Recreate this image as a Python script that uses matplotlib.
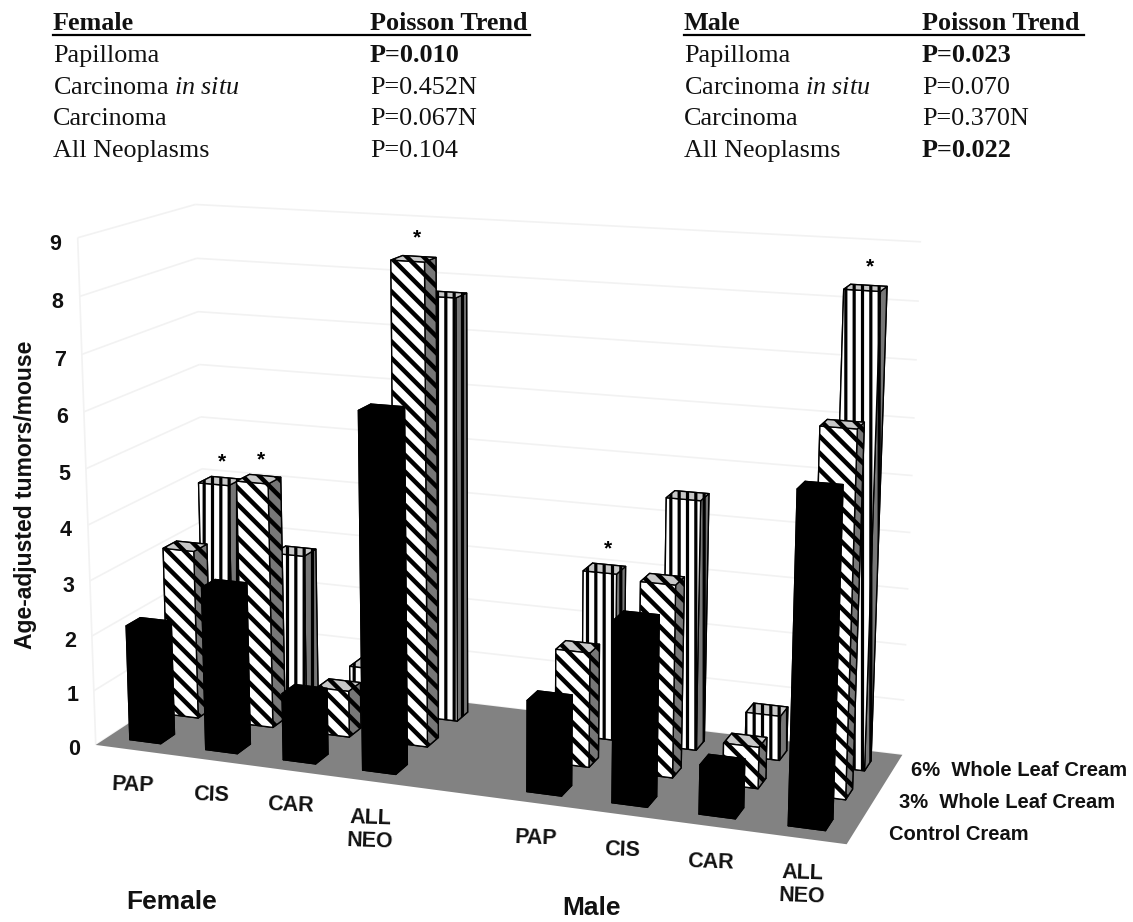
import numpy as np
import matplotlib
matplotlib.use("Agg")
import matplotlib.pyplot as plt
from mpl_toolkits.mplot3d import Axes3D
from mpl_toolkits.mplot3d.art3d import Poly3DCollection, Line3DCollection

W, H = 1133, 922

# ---------- data ----------
categories = ["PAP", "CIS", "CAR", "ALL\nNEO"]
groups = ["Female", "Male"]
series = ["Control Cream", "3%  Whole Leaf Cream", "6%  Whole Leaf Cream"]
female_control = [2.1, 2.95, 1.2, 6.3]
female_3pct = [3.13, 4.5, 0.85, 8.6]
female_6pct = [4.0, 2.8, 0.8, 7.75]
male_control = [1.6, 3.15, 0.85, 5.6]
male_3pct = [2.05, 3.4, 0.73, 6.3]
male_6pct = [3.05, 4.5, 0.8, 8.3]
y_ticks = list(range(10))
# significance stars: (group index, category index, series index)
stars = [(0, 0, 2), (0, 1, 1), (0, 3, 1), (1, 0, 2), (1, 3, 2)]

table_rows = ["Papilloma", "Carcinoma $\\mathit{in\\ situ}$", "Carcinoma", "All Neoplasms"]
female_trend = ["P=0.010", "P=0.452N", "P=0.067N", "P=0.104"]
female_bold = [True, False, False, False]
male_trend = ["P=0.023", "P=0.070", "P=0.370N", "P=0.022"]
male_bold = [True, False, False, True]

# ---------- camera: fitted from the reference's floor and wall corners ----------
world_pts = np.array([[0, 0, 0], [9, 0, 0], [9, 3, 0], [0, 3, 0],
                      [0, 0, 9], [0, 3, 9], [9, 3, 9]], float)
image_pts = np.array([[97, 745], [846, 845], [903, 754], [206, 672],
                      [77, 237], [196, 205], [921, 242]], float)
rows = []
for (X, Y, Z), (u, v) in zip(world_pts, image_pts):
    v = H - v
    rows.append([X, Y, Z, 1, 0, 0, 0, 0, -u * X, -u * Y, -u * Z, -u])
    rows.append([0, 0, 0, 0, X, Y, Z, 1, -v * X, -v * Y, -v * Z, -v])
P = np.linalg.svd(np.array(rows, float))[2][-1].reshape(3, 4)
if P[2] @ np.array([4.5, 1.5, 4, 1]) < 0:
    P = -P
P = P / (P[2] @ np.array([4.5, 1.5, 4, 1]))


def project(X, Y, Z):
    q = P @ np.array([X, Y, Z, 1.0])
    return q[0] / q[2], H - q[1] / q[2]


fig = plt.figure(figsize=(W / 100, H / 100), dpi=100, facecolor="white")
ax = fig.add_axes([-0.2, -0.2, 1.4, 1.4], projection="3d")
ax.patch.set_visible(False)
ax.set_axis_off()
ax.computed_zorder = False


def camera_proj():
    A = ax.transData.inverted().get_matrix()
    M = np.zeros((4, 4))
    M[0] = A[0, 0] * P[0] + A[0, 1] * P[1] + A[0, 2] * P[2]
    M[1] = A[1, 0] * P[0] + A[1, 1] * P[1] + A[1, 2] * P[2]
    M[2] = P[2] - 0.2 * np.array([0, 0, 0, 1.0])
    M[3] = P[2]
    return M


ax.get_proj = camera_proj

# ---------- floor and wall grid ----------
floor = Poly3DCollection([[(0, 0, 0), (9, 0, 0), (9, 3, 0), (0, 3, 0)]],
                         facecolors="#828282", edgecolors="none", zorder=1)
ax.add_collection3d(floor)
grid_segments = []
for t in y_ticks:
    grid_segments.append([(0, 0, t), (0, 3, t)])
    grid_segments.append([(0, 3, t), (9, 3, t)])
grid_segments.append([(0, 0, 0), (0, 0, 9)])
grid = Line3DCollection(grid_segments, colors="#f2f2f2", linewidths=1.2, zorder=0.5)
ax.add_collection3d(grid)

# ---------- bars ----------
values = [[female_control, female_3pct, female_6pct],
          [male_control, male_3pct, male_6pct]]
hatches = [None, "\\\\", "||"]
hatch_lw = [1.0, 3.2, 2.3]
side = ["#000000", "#777777", "#777777"]
top = ["#000000", "#c8c8c8", "#c8c8c8"]
front = ["#000000", "#ffffff", "#ffffff"]
group_start = [0, 5]
bar_w, bar_d = 0.41, 0.36
x_off, y_off = 0.29, 0.31


def px(x, y, s, **kw):
    kw.setdefault("ha", "center")
    kw.setdefault("va", "center")
    return fig.text(x / W, 1 - y / H, s, **kw)


order = 10
for s in (2, 1, 0):
    plt.rcParams["hatch.linewidth"] = hatch_lw[s]
    for g in range(2):
        for c in range(4):
            h = values[g][s][c]
            x = group_start[g] + c + x_off
            y = s + y_off
            cols = [side[s], top[s], front[s], side[s], side[s], side[s]]
            b = ax.bar3d(x, y, 0, bar_w, bar_d, h, color=cols, shade=False,
                         edgecolor="black", linewidth=1.0, hatch=hatches[s])
            b.set_zorder(order)
            order += 1

for g, c, s in stars:
    sx, sy = project(group_start[g] + c + x_off + bar_w * 0.6, s + y_off + bar_d / 2,
                     values[g][s][c] + 0.36)
    px(sx, sy, "*", fontsize=15, fontweight="bold", family="Liberation Sans", color="black")

# ---------- axis text ----------
sans = dict(family="Liberation Sans", fontweight="bold", color="#111111")
for t in y_ticks:
    tx, ty = project(-0.3, 0, t)
    px(tx + 1, ty + 8, str(t), fontsize=15.5, **sans)

px(26, 495, "Age-adjusted tumors/mouse", rotation=90, fontsize=16.5, **sans)
cat_xy = [(133, 785), (211, 795), (290, 805), (370, 830),
          (536, 838), (622, 850), (710, 862), (802, 885)]
for i, (x, y) in enumerate(cat_xy):
    px(x, y, categories[i % 4], fontsize=15.5, rotation=-2, linespacing=1.12, **sans)
px(172, 902, groups[0], fontsize=19, **sans)
px(592, 908, groups[1], fontsize=19, **sans)
px(911, 770, series[2], fontsize=14.5, ha="left", **sans)
px(899, 802, series[1], fontsize=14.5, ha="left", **sans)
px(889, 834, series[0], fontsize=14.5, ha="left", **sans)

# ---------- table ----------
serif = dict(family="Liberation Serif", color="#111111", fontsize=18.8, ha="left", va="baseline")
plt.rcParams["mathtext.fontset"] = "custom"
plt.rcParams["mathtext.rm"] = "Liberation Serif"
plt.rcParams["mathtext.it"] = "Liberation Serif:italic"
row_y = [62, 94, 125, 157]
for x0, x1, xend, name, trend, bold in [(53, 370, 530, groups[0], female_trend, female_bold),
                                        (684, 922, 1084, groups[1], male_trend, male_bold)]:
    px(x0, 30, name, fontweight="bold", **serif)
    px(x1, 30, "Poisson Trend", fontweight="bold", **serif)
    fig.add_artist(plt.Line2D([x0 / W, xend / W], [1 - 35 / H, 1 - 35 / H], color="black", lw=1.6))
    for y, label, val, b in zip(row_y, table_rows, trend, bold):
        px(x0, y, label, **serif)
        px(x1, y, val, fontweight="bold" if b else "normal", **serif)

fig.savefig("out.png", dpi=100, facecolor="white")
